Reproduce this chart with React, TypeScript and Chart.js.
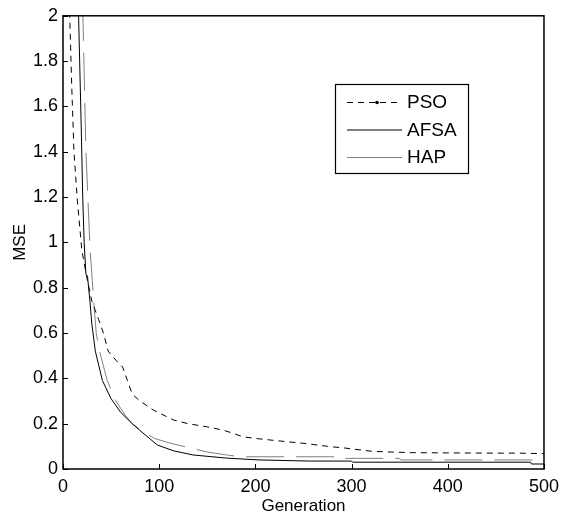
import React, { useEffect, useRef } from "react";
import { Chart, registerables } from "chart.js";

Chart.register(...registerables);

const seriesNames = ["PSO", "AFSA", "HAP"];

const psoGen = [1, 4, 7, 9, 11.4, 15, 19.6, 25, 30, 37, 42, 47, 55, 62, 67, 72, 80, 94, 115, 130, 150, 166, 175, 187, 200, 222, 253, 275, 294, 321, 340, 363, 400, 450, 473, 500];
const psoMse = [2.6, 2.25, 2.0, 1.7, 1.4, 1.18, 0.965, 0.84, 0.74, 0.66, 0.6, 0.52, 0.48, 0.45, 0.39, 0.33, 0.3, 0.26, 0.216, 0.2, 0.186, 0.172, 0.16, 0.142, 0.135, 0.125, 0.112, 0.1, 0.092, 0.078, 0.075, 0.072, 0.071, 0.07, 0.07, 0.068];

const afsaGen = [1, 10, 16.2, 19, 20.5, 22, 23.8, 25.5, 28, 30, 33.6, 41, 50, 60, 72, 80, 98, 115, 135, 170, 204, 256, 300, 301, 486, 487, 500];
const afsaMse = [8, 3.5, 2.0, 1.5, 1.2, 1.0, 0.86, 0.85, 0.74, 0.64, 0.52, 0.39, 0.31, 0.25, 0.2, 0.17, 0.106, 0.08, 0.062, 0.048, 0.04, 0.035, 0.035, 0.03, 0.03, 0.022, 0.022];

const hapGen = [1, 12, 20.7, 23.8, 26, 28, 31.6, 34.5, 38, 46, 55, 65, 72, 80.6, 95, 111.6, 127, 150, 170, 184, 287, 288, 350, 351, 500];
const hapMse = [10, 4, 2.0, 1.405, 1.185, 0.98, 0.76, 0.6, 0.52, 0.39, 0.3, 0.235, 0.2, 0.172, 0.135, 0.114, 0.098, 0.075, 0.062, 0.054, 0.054, 0.047, 0.047, 0.04, 0.04];

const xTicks = [0, 100, 200, 300, 400, 500];
const xTickLabels = ["0", "100", "200", "300", "400", "500"];
const yTicks = [0, 0.2, 0.4, 0.6, 0.8, 1, 1.2, 1.4, 1.6, 1.8, 2];
const yTickLabels = ["0", "0.2", "0.4", "0.6", "0.8", "1", "1.2", "1.4", "1.6", "1.8", "2"];

const FONT = "'Liberation Sans', Arial, sans-serif";
const GRAY = "#808080";

function toPoints(g: number[], v: number[]) {
  return g.map((x, i) => ({ x, y: v[i] }));
}

const matlabPlugin = {
  id: "matlabDecor",
  afterDraw(chart: any) {
    const { ctx, chartArea: a, scales } = chart;
    ctx.save();
    ctx.strokeStyle = "#000";
    ctx.lineWidth = 1;
    ctx.setLineDash([]);
    // inner ticks
    xTicks.forEach((v) => {
      const px = Math.round(scales.x.getPixelForValue(v)) + 0.5;
      ctx.beginPath();
      ctx.moveTo(px, a.bottom);
      ctx.lineTo(px, a.bottom - 5);
      ctx.stroke();
    });
    yTicks.forEach((v) => {
      const py = Math.round(scales.y.getPixelForValue(v)) + 0.5;
      ctx.beginPath();
      ctx.moveTo(a.left, py);
      ctx.lineTo(a.left + 5, py);
      ctx.stroke();
    });
    // box
    ctx.lineWidth = 1.5;
    ctx.strokeRect(a.left, a.top, a.right - a.left, a.bottom - a.top);

    // legend
    const lx = 335, ly = 84, lw = 133, lh = 89;
    ctx.fillStyle = "#fff";
    ctx.fillRect(lx, ly, lw, lh);
    ctx.lineWidth = 1.2;
    ctx.strokeStyle = "#000";
    ctx.strokeRect(lx + 0.5, ly + 0.5, lw, lh);
    const rows = [102, 129.5, 157];
    const styles = [
      { color: "#000", dash: [6, 5], marker: true },
      { color: "#000", dash: [], marker: false },
      { color: GRAY, dash: [], marker: false },
    ];
    ctx.font = `19px ${FONT}`;
    ctx.textBaseline = "middle";
    ctx.textAlign = "left";
    rows.forEach((ry, i) => {
      const s = styles[i];
      ctx.strokeStyle = s.color;
      ctx.lineWidth = 1;
      ctx.setLineDash(s.dash);
      ctx.beginPath();
      ctx.moveTo(347, ry + 0.5);
      ctx.lineTo(402, ry + 0.5);
      ctx.stroke();
      ctx.setLineDash([]);
      if (s.marker) {
        ctx.fillStyle = "#000";
        ctx.beginPath();
        ctx.arc(377, ry + 0.5, 1.8, 0, Math.PI * 2);
        ctx.fill();
      }
      ctx.fillStyle = "#000";
      ctx.fillText(seriesNames[i], 407, ry + 1);
    });
    ctx.restore();
  },
};

export default function App() {
  const ref = useRef<HTMLCanvasElement | null>(null);
  useEffect(() => {
    if (!ref.current) return;
    const chart = new Chart(ref.current, {
      type: "line",
      data: {
        datasets: [
          {
            label: seriesNames[0],
            data: toPoints(psoGen, psoMse),
            borderColor: "#000",
            borderWidth: 1,
            borderDash: [6, 5],
            pointRadius: 0,
            tension: 0,
            fill: false,
          },
          {
            label: seriesNames[1],
            data: toPoints(afsaGen, afsaMse),
            borderColor: "#000",
            borderWidth: 1,
            pointRadius: 0,
            tension: 0,
            fill: false,
          },
          {
            label: seriesNames[2],
            data: toPoints(hapGen, hapMse),
            borderColor: GRAY,
            borderWidth: 1,
            borderDash: [38, 12],
            pointRadius: 0,
            tension: 0,
            fill: false,
          },
        ],
      },
      options: {
        animation: false,
        responsive: false,
        maintainAspectRatio: false,
        layout: { padding: { left: 0, right: 20, top: 15, bottom: 0 } },
        plugins: {
          legend: { display: false },
          tooltip: { enabled: false },
        },
        scales: {
          x: {
            type: "linear",
            min: 0,
            max: 500,
            grid: { display: false, drawTicks: false },
            border: { display: false },
            afterBuildTicks: (s: any) => {
              s.ticks = xTicks.map((v) => ({ value: v }));
            },
            afterFit: (s: any) => {
              s.height = 48;
            },
            ticks: {
              color: "#000",
              padding: 7,
              maxRotation: 0,
              font: { family: FONT, size: 18 },
              callback: (_v: any, i: number) => xTickLabels[i],
            },
            title: {
              display: true,
              text: "Generation",
              color: "#000",
              font: { family: FONT, size: 17 },
              padding: { top: 0, bottom: 0 },
            },
          },
          y: {
            type: "linear",
            min: 0,
            max: 2,
            grid: { display: false, drawTicks: false },
            border: { display: false },
            afterBuildTicks: (s: any) => {
              s.ticks = yTicks.map((v) => ({ value: v }));
            },
            afterFit: (s: any) => {
              s.width = 63;
            },
            ticks: {
              color: "#000",
              padding: 5,
              font: { family: FONT, size: 18 },
              callback: (_v: any, i: number) => yTickLabels[i],
            },
            title: {
              display: true,
              text: "MSE",
              color: "#000",
              font: { family: FONT, size: 17 },
              padding: { top: 10, bottom: 0 },
            },
          },
        },
      },
      plugins: [matlabPlugin],
    });
    return () => chart.destroy();
  }, []);
  return (
    <div style={{ position: "fixed", left: 0, top: 0, width: 566, height: 517, background: "#fff" }}>
      <canvas ref={ref} width={566} height={517} style={{ width: 566, height: 517 }} />
    </div>
  );
}
